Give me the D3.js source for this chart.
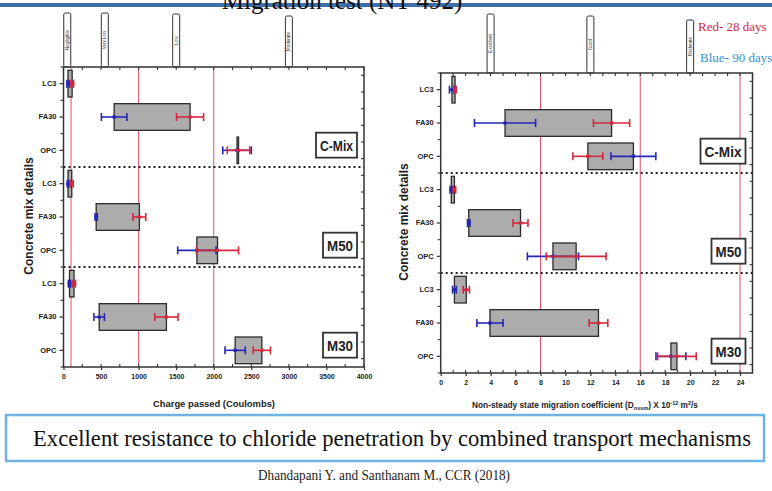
<!DOCTYPE html>
<html>
<head>
<meta charset="utf-8">
<script src="https://cdn.jsdelivr.net/npm/d3@7"></script>
<style>
  body { margin: 0; background: #fff; }
  svg { display: block; }
  text { font-family: "Liberation Sans", Arial, sans-serif; }
  .serif { font-family: "Liberation Serif", "Times New Roman", serif; }
</style>
</head>
<body>
<script>
  // rows (top to bottom) and the three concrete groups
  const groups = ["C-Mix", "M50", "M30"];
  const mixes = ["LC3", "FA30", "OPC"];

  // charge passed (Coulombs): 28 day (red) and 90 day (blue) means and errors
  const coulRed      = [115, 1685, 2330, 110, 1010, 2050, 140, 1370, 2640];
  const coulRedErr   = [20, 180, 150, 20, 85, 280, 20, 155, 115];
  const coulBlue     = [60, 674, 2310, 60, 435, 1775, 80, 475, 2285];
  const coulBlueErr  = [15, 170, 190, 10, 15, 255, 15, 70, 135];
  const coulTicks    = [0, 500, 1000, 1500, 2000, 2500, 3000, 3500, 4000];
  const coulLimits   = [100, 1000, 2000];
  const coulClasses  = ["Negligible", "Very Low", "Low", "Moderate"];
  const coulClassAt  = [50, 550, 1500, 3000];

  // non-steady state migration coefficient (x 10^-12 m2/s)
  const migRed       = [1.15, 13.7, 11.8, 1.1, 6.4, 10.86, 2.05, 12.65, 18.94];
  const migRedErr    = [0.1, 1.45, 1.2, 0.1, 0.6, 2.4, 0.25, 0.75, 1.55];
  const migBlue      = [0.9, 5.16, 15.45, 0.85, 2.25, 9.0, 1.1, 3.95, 18.46];
  const migBlueErr   = [0.2, 2.45, 1.8, 0.1, 0.1, 2.05, 0.15, 1.05, 1.2];
  const migTicks     = [0, 2, 4, 6, 8, 10, 12, 14, 16, 18, 20, 22, 24];
  const migLimits    = [8, 16, 24];
  const migClasses   = ["Excellent", "Good", "Moderate"];
  const migClassAt   = [4, 12, 20];

  const W = 772, H = 491;
  const RED = "#d4283c", BLUE = "#2626b4", LIMIT = "#e0506a";

  const svg = d3.select("body").append("svg").attr("width", W).attr("height", H);

  // slide header (title runs off the top edge, as on the slide)
  svg.append("rect").attr("x", 0).attr("y", 3).attr("width", W).attr("height", 4).attr("fill", "#3f6fa8");
  svg.append("text").attr("class", "serif").attr("x", 342).attr("y", 9)
     .attr("text-anchor", "middle").attr("font-size", 25).attr("fill", "#111")
     .text("Migration test (NT 492)");

  const rowKeys = d3.range(9);

  function panel(opt) {
    const x = d3.scaleLinear().domain(opt.domain).range([opt.x0, opt.x1]);
    const y = d3.scaleBand().domain(rowKeys).range([opt.y0, opt.y0 + 300]).paddingInner(0);
    const g = svg.append("g");

    // class limit lines
    g.selectAll(".lim").data(opt.limits).join("line")
      .attr("x1", d => x(d)).attr("x2", d => x(d))
      .attr("y1", opt.y0).attr("y2", opt.y0 + 300)
      .attr("stroke", LIMIT).attr("stroke-width", 1);

    // class label boxes on top
    opt.classes.forEach((c, i) => {
      const cx = x(opt.classAt[i]);
      const top = opt.classTop[i];
      g.append("rect").attr("x", cx - 3.5).attr("y", top).attr("width", 7)
        .attr("height", opt.y0 - top).attr("rx", 1.5)
        .attr("fill", "#fff").attr("stroke", "#333").attr("stroke-width", 1);
      g.append("text")
        .attr("transform", `translate(${cx + 1.6},${(top + opt.y0) / 2}) rotate(-90)`)
        .attr("text-anchor", "middle").attr("font-size", 4.5).attr("fill", "#333")
        .text(c);
    });

    // grey range boxes between 28 and 90 day values
    const bh = y.bandwidth() * 0.8;
    g.selectAll(".box").data(rowKeys).join("rect")
      .attr("x", i => x(Math.min(opt.red[i], opt.blue[i])))
      .attr("width", i => Math.max(1.2, Math.abs(x(opt.red[i]) - x(opt.blue[i]))))
      .attr("y", i => y(i) + (y.bandwidth() - bh) / 2).attr("height", bh)
      .attr("fill", "#acacac").attr("stroke", "#2b2b2b").attr("stroke-width", 1.3);

    // error bars
    function errs(mean, err, col) {
      const e = g.append("g");
      e.selectAll("line.h").data(rowKeys).join("line")
        .attr("x1", i => x(mean[i] - err[i])).attr("x2", i => x(mean[i] + err[i]))
        .attr("y1", i => y(i) + y.bandwidth() / 2).attr("y2", i => y(i) + y.bandwidth() / 2)
        .attr("stroke", col).attr("stroke-width", 1.6);
      [-1, 1].forEach(s => {
        e.selectAll("line.c" + (s > 0 ? "p" : "m")).data(rowKeys).join("line")
          .attr("x1", i => x(mean[i] + s * err[i])).attr("x2", i => x(mean[i] + s * err[i]))
          .attr("y1", i => y(i) + y.bandwidth() / 2 - 4).attr("y2", i => y(i) + y.bandwidth() / 2 + 4)
          .attr("stroke", col).attr("stroke-width", 1.6);
      });
      e.selectAll("circle").data(rowKeys).join("circle")
        .attr("cx", i => x(mean[i])).attr("cy", i => y(i) + y.bandwidth() / 2)
        .attr("r", 2).attr("fill", col);
    }
    errs(opt.blue, opt.blueErr, BLUE);
    errs(opt.red, opt.redErr, RED);

    // group separators
    [3, 6].forEach(k => {
      g.append("line").attr("x1", opt.x0).attr("x2", opt.x1)
        .attr("y1", y(k)).attr("y2", y(k))
        .attr("stroke", "#222").attr("stroke-width", 2.2).attr("stroke-dasharray", "2,3");
    });

    // group labels
    groups.forEach((gr, k) => {
      const w = gr === "C-Mix" ? opt.cmixW : 34;
      const bx = opt.x1 - 7 - w, by = y(k * 3 + 2) - 1;
      g.append("rect").attr("x", bx).attr("y", by).attr("width", w).attr("height", 25)
        .attr("fill", "#fff").attr("stroke", "#333").attr("stroke-width", 1.8);
      g.append("text").attr("x", bx + w / 2).attr("y", by + 18).attr("text-anchor", "middle")
        .attr("font-size", 15).attr("font-weight", "bold").attr("fill", "#222")
        .attr("textLength", w - 8).attr("lengthAdjust", "spacingAndGlyphs").text(gr);
    });

    // frame
    g.append("rect").attr("x", opt.x0).attr("y", opt.y0).attr("width", opt.x1 - opt.x0)
      .attr("height", 300).attr("fill", "none").attr("stroke", "#333").attr("stroke-width", 1.5);

    // axes
    const minor = d3.range(opt.domain[0], opt.domain[1] + 1e-9, opt.minorStep);
    const bottom = g.append("g").attr("transform", `translate(0,${opt.y0 + 300})`)
      .call(d3.axisBottom(x).tickValues(opt.ticks).tickSize(3).tickFormat(d3.format("d")));
    bottom.select(".domain").remove();
    bottom.selectAll("text").attr("font-size", 7).attr("font-weight", "bold").attr("fill", "#222").attr("dy", "0.9em");
    bottom.selectAll("line").attr("stroke", "#333").attr("stroke-width", 1.2);
    [opt.y0, opt.y0 + 300].forEach((yy, j) => {
      g.append("g").selectAll("line").data(minor).join("line")
        .attr("x1", d => x(d)).attr("x2", d => x(d))
        .attr("y1", yy).attr("y2", yy + (j ? -3 : 3))
        .attr("stroke", "#333").attr("stroke-width", 1.1);
    });

    const left = g.append("g").attr("transform", `translate(${opt.x0},0)`)
      .call(d3.axisLeft(y).tickSize(4).tickFormat(i => mixes[i % 3]));
    left.select(".domain").remove();
    left.selectAll("text").attr("font-size", 7.5).attr("font-weight", "bold").attr("fill", "#222");
    left.selectAll("line").attr("stroke", "#333").attr("stroke-width", 1.2);
    g.append("g").selectAll("line").data(d3.range(10)).join("line")
      .attr("x1", opt.x0).attr("x2", opt.x0 - 3)
      .attr("y1", i => opt.y0 + i * y.step()).attr("y2", i => opt.y0 + i * y.step())
      .attr("stroke", "#333").attr("stroke-width", 1.1);
    g.append("g").selectAll("line").data(d3.range(18)).join("line")
      .attr("x1", opt.x1).attr("x2", opt.x1 - 3)
      .attr("y1", i => opt.y0 + (i + 0.5) * y.step() / 2).attr("y2", i => opt.y0 + (i + 0.5) * y.step() / 2)
      .attr("stroke", "#333").attr("stroke-width", 1.1);

    // y axis title
    g.append("text")
      .attr("transform", `translate(${opt.x0 - opt.titleOff},${opt.y0 + 149}) rotate(-90)`)
      .attr("text-anchor", "middle").attr("font-size", 12).attr("font-weight", "bold").attr("fill", "#222")
      .text("Concrete mix details");
    return { g, x, y };
  }

  const p1 = panel({
    domain: [0, 4000], x0: 63.5, x1: 364, y0: 67, titleOff: 30.5,
    red: coulRed, redErr: coulRedErr, blue: coulBlue, blueErr: coulBlueErr,
    ticks: coulTicks, minorStep: 250, limits: coulLimits,
    classes: coulClasses, classAt: coulClassAt, classTop: [13, 13, 14, 16], cmixW: 41
  });
  p1.g.append("text").attr("x", 214).attr("y", 407).attr("text-anchor", "middle")
    .attr("font-size", 9).attr("font-weight", "bold").attr("fill", "#222")
    .attr("textLength", 122).attr("lengthAdjust", "spacingAndGlyphs")
    .text("Charge passed (Coulombs)");

  const p2 = panel({
    domain: [0, 25], x0: 440.7, x1: 752.5, y0: 73, titleOff: 33,
    red: migRed, redErr: migRedErr, blue: migBlue, blueErr: migBlueErr,
    ticks: migTicks, minorStep: 1, limits: migLimits,
    classes: migClasses, classAt: migClassAt, classTop: [14, 16, 20], cmixW: 45
  });
  const t2 = p2.g.append("text").attr("x", 585).attr("y", 408).attr("text-anchor", "middle")
    .attr("font-size", 8.3).attr("font-weight", "bold").attr("fill", "#222");
  t2.append("tspan").text("Non-steady state migration coefficient (D");
  t2.append("tspan").attr("font-size", 5.5).attr("dy", 2).text("nssm");
  t2.append("tspan").attr("dy", -2).text(") X 10");
  t2.append("tspan").attr("font-size", 5.5).attr("dy", -3).text("-12");
  t2.append("tspan").attr("dy", 3).text(" m");
  t2.append("tspan").attr("font-size", 5.5).attr("dy", -3).text("2");
  t2.append("tspan").attr("dy", 3).text("/s");

  // legend notes
  svg.append("text").attr("class", "serif").attr("x", 698).attr("y", 31)
    .attr("font-size", 13).attr("fill", RED).text("Red- 28 days");
  svg.append("text").attr("class", "serif").attr("x", 700).attr("y", 62)
    .attr("font-size", 13).attr("fill", "#3a8ed8").text("Blue- 90 days");

  // conclusion box
  svg.append("rect").attr("x", 6).attr("y", 415).attr("width", 758).attr("height", 46)
    .attr("fill", "#fff").attr("stroke", "#6fb3e6").attr("stroke-width", 2.5);
  svg.append("text").attr("class", "serif").attr("x", 392).attr("y", 446).attr("text-anchor", "middle")
    .attr("font-size", 23).attr("fill", "#111")
    .attr("textLength", 718).attr("lengthAdjust", "spacingAndGlyphs")
    .text("Excellent resistance to chloride penetration by combined transport mechanisms");
  svg.append("text").attr("class", "serif").attr("x", 384).attr("y", 480).attr("text-anchor", "middle")
    .attr("font-size", 14).attr("fill", "#222")
    .attr("textLength", 252).attr("lengthAdjust", "spacingAndGlyphs")
    .text("Dhandapani Y. and Santhanam M., CCR (2018)");
</script>
</body>
</html>
